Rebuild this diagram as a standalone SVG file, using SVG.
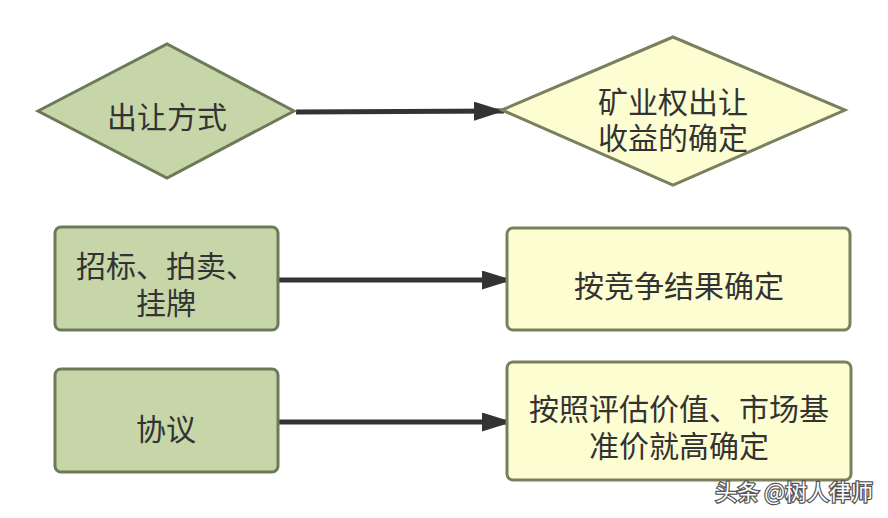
<svg xmlns="http://www.w3.org/2000/svg" width="888" height="518" viewBox="0 0 888 518">
<style>
.g{fill:#c6d6a8;stroke:#6d7a5a;stroke-width:3}
.y{fill:#fdfdd2;stroke:#7a7f5e;stroke-width:3}
.t{font-family:"Noto Sans CJK SC","Noto Sans",sans-serif;font-size:30px;fill:#333;text-anchor:middle;dominant-baseline:central}
.e{stroke:#333;stroke-width:5;fill:none}
.wm{font-family:"Noto Sans CJK SC",sans-serif;font-size:22px;fill:#fff;stroke:#555;stroke-width:2.5;paint-order:stroke;text-anchor:end}
</style>
<defs>
<marker id="ah" viewBox="0 0 10 10" refX="10" refY="5" markerWidth="6" markerHeight="3.8" markerUnits="strokeWidth" orient="auto" preserveAspectRatio="none">
<path d="M0,0 L10,5 L0,10 z" fill="#333"/>
</marker>
</defs>
<rect width="888" height="518" fill="#fff"/>
<g id="connectors">
<line class="e" x1="296" y1="112" x2="504" y2="111" marker-end="url(#ah)"/>
<line class="e" x1="279" y1="280" x2="512" y2="280" marker-end="url(#ah)"/>
<line class="e" x1="279" y1="422" x2="512" y2="422" marker-end="url(#ah)"/>
</g>
<g id="n1">
<polygon class="g" points="38,111 167,44 294,111 167,178"/>
<text class="t" x="167" y="115">出让方式</text>
</g>
<g id="n2">
<polygon class="y" points="502,110 673,37 845,110 673,185"/>
<text class="t" x="673" y="100">矿业权出让</text>
<text class="t" x="673" y="136">收益的确定</text>
</g>
<g id="n3">
<rect class="g" x="55" y="227" width="223" height="103" rx="6"/>
<text class="t" x="166" y="264">招标、拍卖、</text>
<text class="t" x="166" y="301">挂牌</text>
</g>
<g id="n4">
<rect class="y" x="507" y="228" width="343" height="102" rx="6"/>
<text class="t" x="679" y="284">按竞争结果确定</text>
</g>
<g id="n5">
<rect class="g" x="55" y="369" width="223" height="103" rx="6"/>
<text class="t" x="166" y="427">协议</text>
</g>
<g id="n6">
<rect class="y" x="507" y="362" width="344" height="118" rx="6"/>
<text class="t" x="679" y="407">按照评估价值、市场基</text>
<text class="t" x="679" y="444">准价就高确定</text>
</g>
<text class="wm" x="873" y="500">头条 @树人律师</text>
</svg>
